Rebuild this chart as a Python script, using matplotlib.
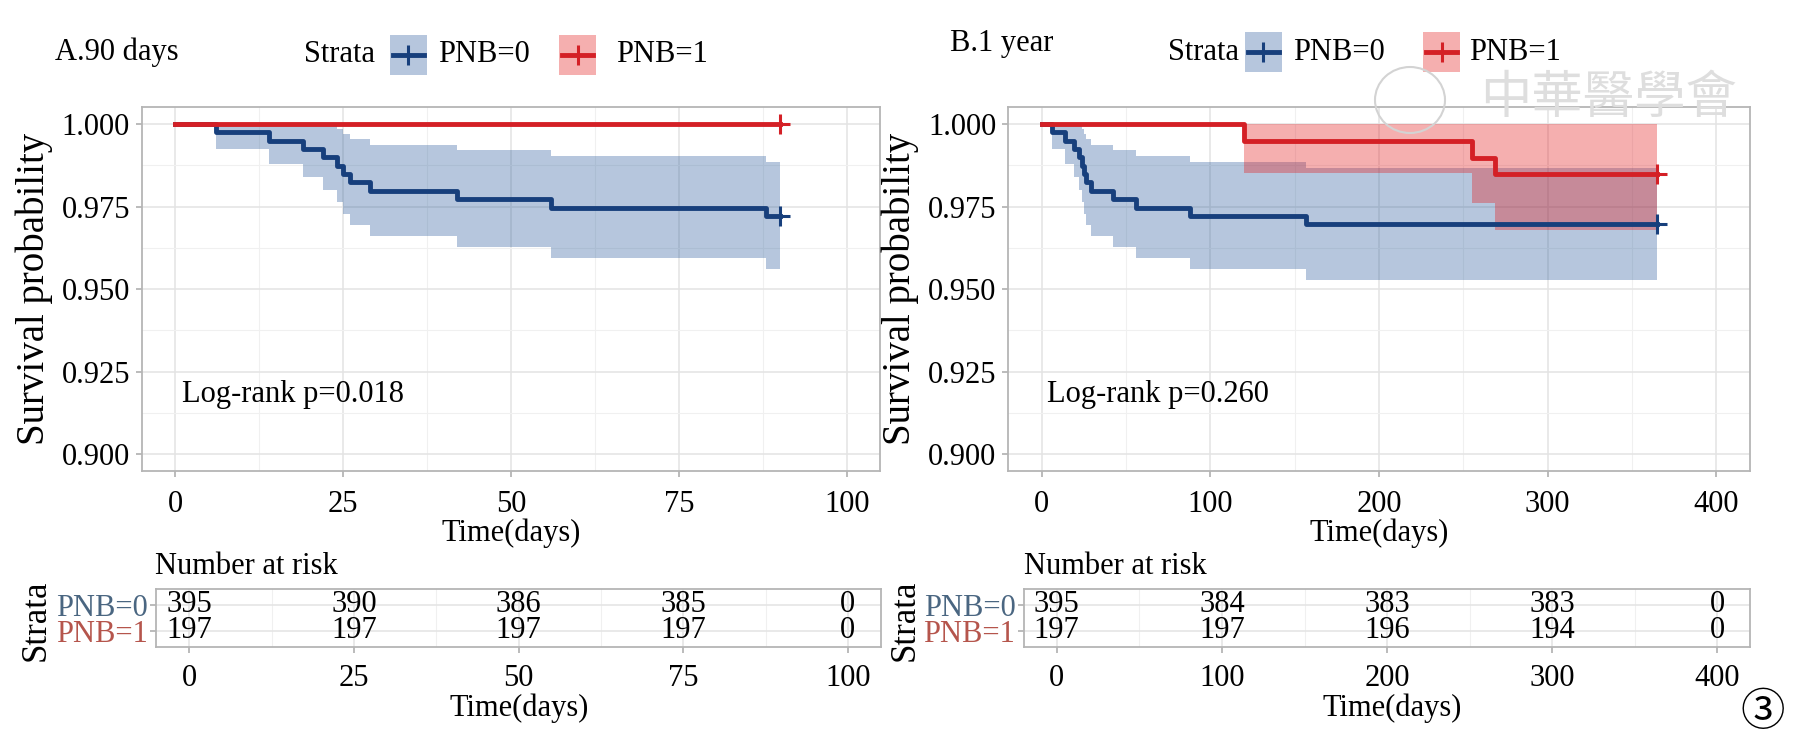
import matplotlib
matplotlib.use('Agg')
import matplotlib.pyplot as plt
from matplotlib.patches import Rectangle, Ellipse
from matplotlib.lines import Line2D

plt.rcParams['font.family'] = ['Liberation Serif', 'Noto Sans CJK SC', 'DejaVu Sans']

# ---------------- data ----------------
strata = ['PNB=0', 'PNB=1']

# Panel A : 90 days
a_t0 = [0, 6, 14, 19, 22, 24, 25, 26, 29, 42, 56, 88, 90]
a_s0 = [1.0, 0.9975, 0.9949, 0.9924, 0.9899, 0.9873, 0.9848, 0.9823, 0.9797, 0.9772, 0.9747, 0.9722]
a_lo0 = [1.0, 0.9925, 0.9880, 0.9839, 0.9801, 0.9764, 0.9728, 0.9694, 0.9660, 0.9626, 0.9593, 0.9561]
a_hi0 = [1.0, 1.0, 1.0, 1.0, 0.9998, 0.9984, 0.9970, 0.9954, 0.9937, 0.9921, 0.9903, 0.9885]
a_t1 = [0, 90]
a_s1 = [1.0]
a_lo1 = [1.0]
a_hi1 = [1.0]
a_pval = 'Log-rank p=0.018'
a_risk_times = [0, 25, 50, 75, 100]
a_risk0 = [395, 390, 386, 385, 0]
a_risk1 = [197, 197, 197, 197, 0]
a_xticks = [0, 25, 50, 75, 100]

# Panel B : 1 year
b_t0 = [0, 6, 14, 19, 22, 24, 25, 26, 29, 42, 56, 88, 157, 365]
b_s0 = [1.0, 0.9975, 0.9949, 0.9924, 0.9899, 0.9873, 0.9848, 0.9823, 0.9797, 0.9772, 0.9747, 0.9722, 0.9696]
b_lo0 = [1.0, 0.9925, 0.9880, 0.9839, 0.9801, 0.9764, 0.9728, 0.9694, 0.9660, 0.9626, 0.9593, 0.9561, 0.9528]
b_hi0 = [1.0, 1.0, 1.0, 1.0, 0.9998, 0.9984, 0.9970, 0.9954, 0.9937, 0.9921, 0.9903, 0.9885, 0.9867]
b_t1 = [0, 120, 255, 269, 365]
b_s1 = [1.0, 0.9949, 0.9898, 0.9848]
b_lo1 = [1.0, 0.9851, 0.9760, 0.9678]
b_hi1 = [1.0, 1.0, 1.0, 1.0]
b_pval = 'Log-rank p=0.260'
b_risk_times = [0, 100, 200, 300, 400]
b_risk0 = [395, 384, 383, 383, 0]
b_risk1 = [197, 197, 196, 194, 0]
b_xticks = [0, 100, 200, 300, 400]

yticks = [0.900, 0.925, 0.950, 0.975, 1.000]

# ---------------- style ----------------
BLUE = '#173F7C'
RED = '#D42026'
BLUE_FILL = '#2E5E9E'
RED_FILL = '#E41A1C'
LBL0 = '#4A6681'
LBL1 = '#B5554C'
BORDER = '#B5B5B5'
GRID = '#E3E3E3'
GRID_MIN = '#F0F0F0'
FS = 22
FS_V = 28
LW = 3.5

W, H = 1799, 740
fig = plt.figure(figsize=(W / 100, H / 100), dpi=100)


def fx(x):
    return x / W


def fy(y):
    return 1 - y / H


def add_ax(l, t, r, b):
    return fig.add_axes([fx(l), fy(b), (r - l) / W, (b - t) / H])


def style_ax(ax):
    for sp in ax.spines.values():
        sp.set_color(BORDER)
        sp.set_linewidth(1.3)
    ax.tick_params(colors=BORDER, labelcolor='black', labelsize=FS, length=4.5, width=1.3)
    ax.set_axisbelow(True)


def km(ax, t, s, lo, hi, color, fillc, fill=True):
    ss = list(s) + [s[-1]]
    if fill:
        ax.fill_between(t, list(lo) + [lo[-1]], list(hi) + [hi[-1]], step='post',
                        color=fillc, alpha=0.35, lw=0, zorder=2)
    ax.step(t, ss, where='post', color=color, lw=LW, zorder=4)
    ax.plot([t[-1]], [ss[-1]], marker='+', ms=14, mew=2.2, color=color, zorder=5)


def main_panel(l, r, xlim, xticks, curves, pval, pval_x):
    ax = add_ax(l, 107.4, r, 470.8)
    style_ax(ax)
    for c in curves:
        km(ax, *c)
    ax.set_xlim(*xlim)
    ax.set_ylim(0.895, 1.005)
    ax.set_xticks(xticks)
    ax.set_xticks([(xticks[i] + xticks[i + 1]) / 2 for i in range(len(xticks) - 1)], minor=True)
    ax.set_yticks(yticks)
    ax.set_yticklabels(['%.3f' % v for v in yticks])
    ax.set_yticks([0.9125, 0.9375, 0.9625, 0.9875], minor=True)
    ax.tick_params(which='minor', length=0)
    ax.grid(True, which='major', color=GRID, lw=1.1)
    ax.grid(True, which='minor', color=GRID_MIN, lw=0.8)
    ax.tick_params(axis='x', pad=9)
    ax.tick_params(axis='y', pad=4)
    ax.text(pval_x, 0.918, pval, fontsize=FS, ha='left', va='center')
    return ax


def risk_panel(l, r, xlim, xticks, times, r0, r1):
    ax = add_ax(l, 588.8, r, 646.8)
    style_ax(ax)
    ax.set_xlim(*xlim)
    ax.set_ylim(0.4, 2.6)
    ax.set_xticks(xticks)
    ax.set_xticks([(xticks[i] + xticks[i + 1]) / 2 for i in range(len(xticks) - 1)], minor=True)
    ax.tick_params(which='minor', length=0)
    ax.set_yticks([2, 1])
    ax.set_yticklabels(strata)
    for lab, c in zip(ax.get_yticklabels(), [LBL0, LBL1]):
        lab.set_color(c)
    ax.tick_params(axis='y', pad=2, length=4)
    ax.grid(True, which='major', color=GRID, lw=1.1)
    ax.grid(True, which='minor', axis='x', color=GRID_MIN, lw=0.8)
    for t, v in zip(times, r0):
        ax.text(t, 2, str(v), ha='center', va='center', fontsize=FS)
    for t, v in zip(times, r1):
        ax.text(t, 1, str(v), ha='center', va='center', fontsize=FS)
    ax.tick_params(axis='x', pad=8)
    return ax


# Panel A
main_panel(141.9, 880.3, (-5, 105), a_xticks,
           [(a_t0, a_s0, a_lo0, a_hi0, BLUE, BLUE_FILL, True),
            (a_t1, a_s1, a_lo1, a_hi1, RED, RED_FILL, False)],
           a_pval, 1)
risk_panel(156.4, 880.8, (-5, 105), a_xticks, a_risk_times, a_risk0, a_risk1)

# Panel B
main_panel(1008, 1750, (-20, 420), b_xticks,
           [(b_t0, b_s0, b_lo0, b_hi0, BLUE, BLUE_FILL, True),
            (b_t1, b_s1, b_lo1, b_hi1, RED, RED_FILL, True)],
           b_pval, 3)
risk_panel(1023.7, 1750.5, (-20, 420), b_xticks, b_risk_times, b_risk0, b_risk1)

# axis labels
for xc in [34, 900]:
    fig.text(fx(xc), fy(289), 'Survival probability', rotation=90, ha='center', va='center',
             fontsize=FS_V)
for xc in [511, 1379]:
    fig.text(fx(xc), fy(533), 'Time(days)', ha='center', va='center', fontsize=FS)
for xc in [519, 1392]:
    fig.text(fx(xc), fy(708), 'Time(days)', ha='center', va='center', fontsize=FS)
for xc in [36, 905]:
    fig.text(fx(xc), fy(620), 'Strata', rotation=90, ha='center', va='center', fontsize=25)
for xl in [155, 1024]:
    fig.text(fx(xl), fy(566), 'Number at risk', ha='left', va='center', fontsize=FS)

# titles
fig.text(fx(55), fy(52), 'A.90 days', ha='left', va='center', fontsize=FS)
fig.text(fx(950), fy(44), 'B.1 year', ha='left', va='center', fontsize=FS)


def legend(x_title, x_key0, x_lab0, x_key1, x_lab1, yc):
    fig.text(fx(x_title), fy(yc), 'Strata', ha='left', va='center', fontsize=FS)
    for xk, xl, col, fc, lab in [(x_key0, x_lab0, BLUE, BLUE_FILL, strata[0]),
                                 (x_key1, x_lab1, RED, RED_FILL, strata[1])]:
        fig.patches.append(Rectangle((fx(xk), fy(yc + 20)), 37 / W, 40 / H,
                                     transform=fig.transFigure, facecolor=fc, alpha=0.35,
                                     edgecolor='none'))
        fig.lines.append(Line2D([fx(xk + 3), fx(xk + 34)], [fy(yc), fy(yc)],
                                transform=fig.transFigure, color=col, lw=LW))
        fig.lines.append(Line2D([fx(xk + 18.5)], [fy(yc)], transform=fig.transFigure,
                                color=col, marker='+', ms=14, mew=2.2))
        fig.text(fx(xl), fy(yc), lab, ha='left', va='center', fontsize=FS)


legend(304, 390, 438, 559, 616, 55)
legend(1168, 1245, 1293, 1423, 1469, 52)

# watermark
fig.patches.append(Ellipse((fx(1410), fy(100)), 70 / W, 66 / H, transform=fig.transFigure,
                           facecolor='none', edgecolor='#D3D3D3', lw=1.5))
fig.text(fx(1480), fy(100), '中華醫學會', ha='left', va='center', fontsize=37,
         color='#DEDEDE')

# figure number
fig.text(fx(1763), fy(713), '③', ha='center', va='center', fontsize=32)

fig.savefig('out.png', dpi=100)
